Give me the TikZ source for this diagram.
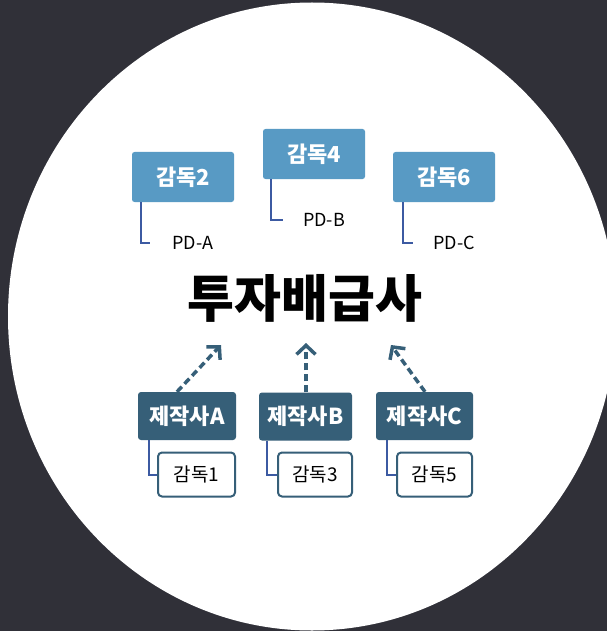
\documentclass[tikz,border=0pt]{standalone}
\usepackage{fontspec}
\setmainfont{Noto Sans CJK KR}
\usetikzlibrary{arrows.meta}
\definecolor{bgdark}{RGB}{48,48,56}
\definecolor{lightbox}{RGB}{88,154,196}
\definecolor{darkbox}{RGB}{54,95,120}
\definecolor{bracketblue}{RGB}{60,90,162}
\tikzset{
  topbox/.style={fill=lightbox, rounded corners=2.5pt, minimum width=102pt, minimum height=50pt, inner sep=0pt,
    text=white, font=\bfseries\fontsize{22}{22}\selectfont},
  prodbox/.style={fill=darkbox, rounded corners=3pt, minimum height=48pt, inner sep=0pt,
    text=white, font=\bfseries\fontsize{22}{22}\selectfont},
  dirbox/.style={fill=white, draw=darkbox, line width=2pt, rounded corners=4pt, minimum height=44pt, inner sep=0pt,
    text=black, font=\fontsize{19}{19}\selectfont},
  pdlabel/.style={inner sep=0pt, text=black, font=\fontsize{18}{18}\selectfont},
  bracket/.style={draw=bracketblue, line width=2pt},
  upflow/.style={draw=darkbox, line width=3.5pt, dash pattern=on 7pt off 4pt,
    -{Straight Barb[length=9pt,width=19pt,line width=3.5pt]}},
}
\begin{document}
\begin{tikzpicture}[x=1pt,y=-1pt]
\useasboundingbox (0,0) rectangle (607,631);
\fill[bgdark] (0,0) rectangle (607,631);
\fill[white] (312,316.5) ellipse [x radius=304, y radius=314];

% top director boxes
\node[topbox] (g2) at (183,177) {감독2};
\node[topbox] (g4) at (314,154) {감독4};
\node[topbox] (g6) at (444,177) {감독6};

\node[pdlabel] (pda) at (193,243) {PD-A};
\node[pdlabel] (pdb) at (324,220) {PD-B};
\node[pdlabel] (pdc) at (454,243) {PD-C};

\draw[bracket] ([xshift=9pt]g2.south west) |- ([xshift=-22pt]pda.west);
\draw[bracket] ([xshift=8pt]g4.south west) |- ([xshift=-20pt]pdb.west);
\draw[bracket] ([xshift=10pt]g6.south west) |- ([xshift=-20pt]pdc.west);

% title
\node[inner sep=0pt, font=\bfseries\fontsize{51}{51}\selectfont] (title) at (305,298.5) {투자배급사};

% production companies
\node[prodbox, minimum width=98pt] (pa) at (187,416) {제작사A};
\node[prodbox, minimum width=93pt] (pb) at (305.5,416.5) {제작사B};
\node[prodbox, minimum width=97pt] (pc) at (424.5,416) {제작사C};

\node[dirbox, minimum width=77pt] (d1) at (196.5,474.5) {감독1};
\node[dirbox, minimum width=74pt] (d3) at (315,474.5) {감독3};
\node[dirbox, minimum width=75pt] (d5) at (434.5,474.5) {감독5};

\draw[bracket] ([xshift=11pt]pa.south west) |- (d1.west);
\draw[bracket] ([xshift=8pt]pb.south west) |- (d3.west);
\draw[bracket] ([xshift=11pt]pc.south west) |- (d5.west);

% arrows toward distributor
\coordinate (ta) at (221,345);
\coordinate (tb) at (306,343);
\coordinate (tc) at (391,345);
\draw[upflow] ([xshift=-10pt]pa.north) -- (ta);
\draw[upflow] ([xshift=0.5pt]pb.north) -- (tb);
\draw[upflow] ([xshift=0.5pt]pc.north) -- (tc);
\end{tikzpicture}
\end{document}
